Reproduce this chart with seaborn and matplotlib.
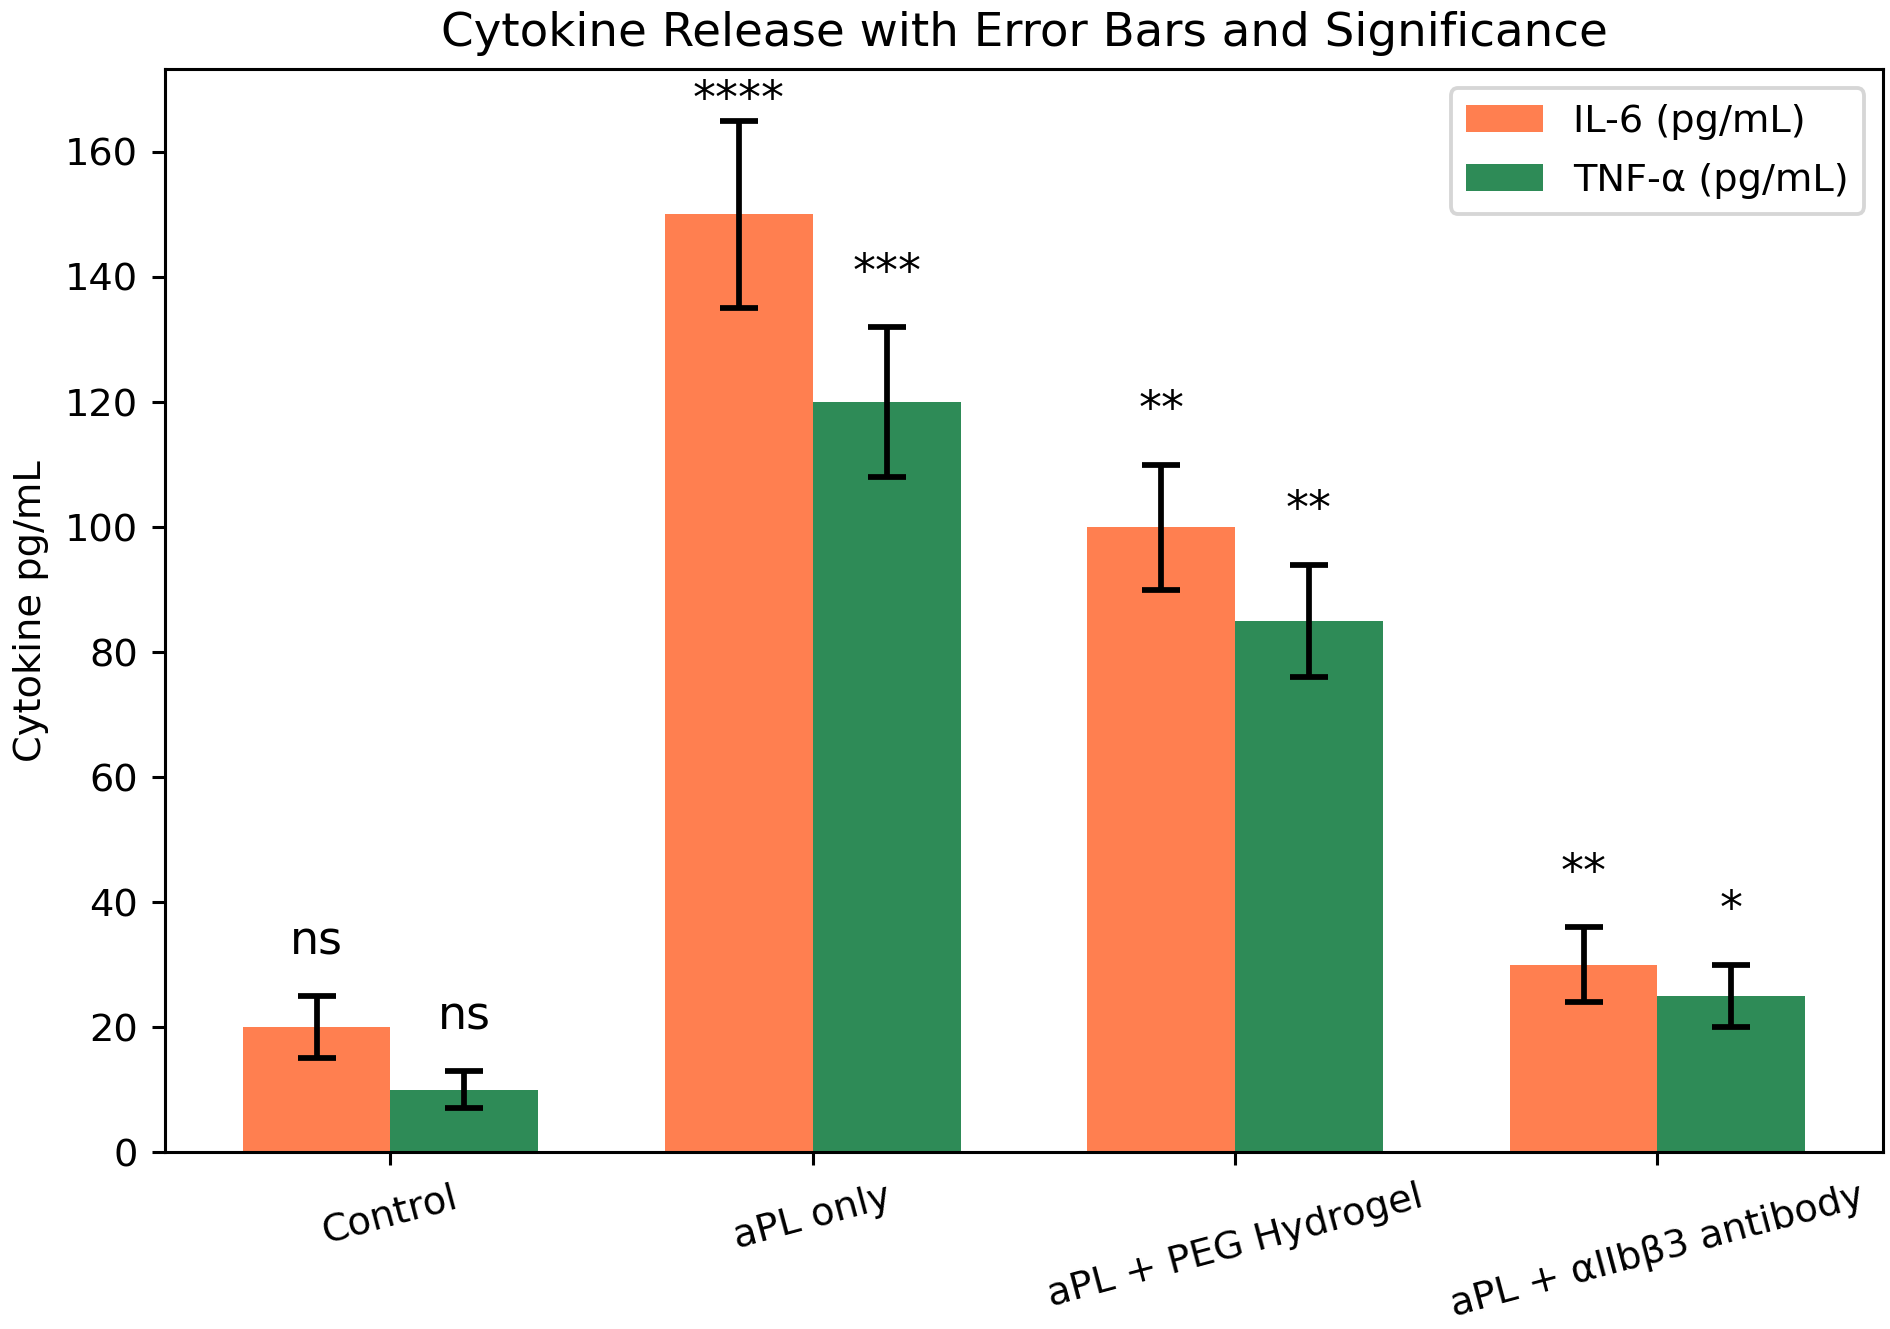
import seaborn as sns
import matplotlib.pyplot as plt
import pandas as pd

# Data
groups = ["Control", "aPL only", "aPL + PEG Hydrogel", "aPL + αIIbβ3 antibody"]
il6 = [20, 150, 100, 30]
il6_err = [5, 15, 10, 6]
tnf = [10, 120, 85, 25]
tnf_err = [3, 12, 9, 5]
il6_sig = ["ns", "****", "**", "**"]
tnf_sig = ["ns", "***", "**", "*"]
series = ["IL-6 (pg/mL)", "TNF-α (pg/mL)"]
colors = ["#FF7F50", "#2E8B57"]

if __name__ == "__main__":
    df = pd.DataFrame({
        "group": groups * 2,
        "value": il6 + tnf,
        "cytokine": [series[0]] * len(groups) + [series[1]] * len(groups),
    })

    dpi = 276
    fig, ax = plt.subplots(figsize=(1891 / dpi, 1329 / dpi), dpi=dpi)
    sns.barplot(data=df, x="group", y="value", hue="cytokine", palette=colors,
                width=0.7, saturation=1, errorbar=None, linewidth=0, ax=ax)

    ax.set_xlim(-0.535, 3.535)
    ymax = max(v + e for v, e in zip(il6 + tnf, il6_err + tnf_err)) * 1.05
    ax.set_ylim(0, ymax)

    # Error bars and significance markers on top of each bar
    for cont, errs, sigs in zip(ax.containers, [il6_err, tnf_err], [il6_sig, tnf_sig]):
        for bar, err, sig in zip(cont, errs, sigs):
            x = bar.get_x() + bar.get_width() / 2
            h = bar.get_height()
            ax.errorbar(x, h, yerr=err, fmt="none", ecolor="black",
                        elinewidth=1.5, capsize=5, capthick=1.5)
            y = min(h + err + 5, ymax * 0.95)
            ax.text(x, y, sig, ha="center", va="bottom", fontsize=12)

    ax.set_xlabel("")
    ax.set_ylabel("Cytokine pg/mL")
    ax.set_title("Cytokine Release with Error Bars and Significance", fontsize=12.2)
    plt.setp(ax.get_xticklabels(), rotation=15)
    ax.legend(loc="upper right", title=None, labelspacing=0.6)

    fig.subplots_adjust(left=0.087, right=0.996, top=0.948, bottom=0.133)
    fig.savefig("out.png", dpi=dpi)
